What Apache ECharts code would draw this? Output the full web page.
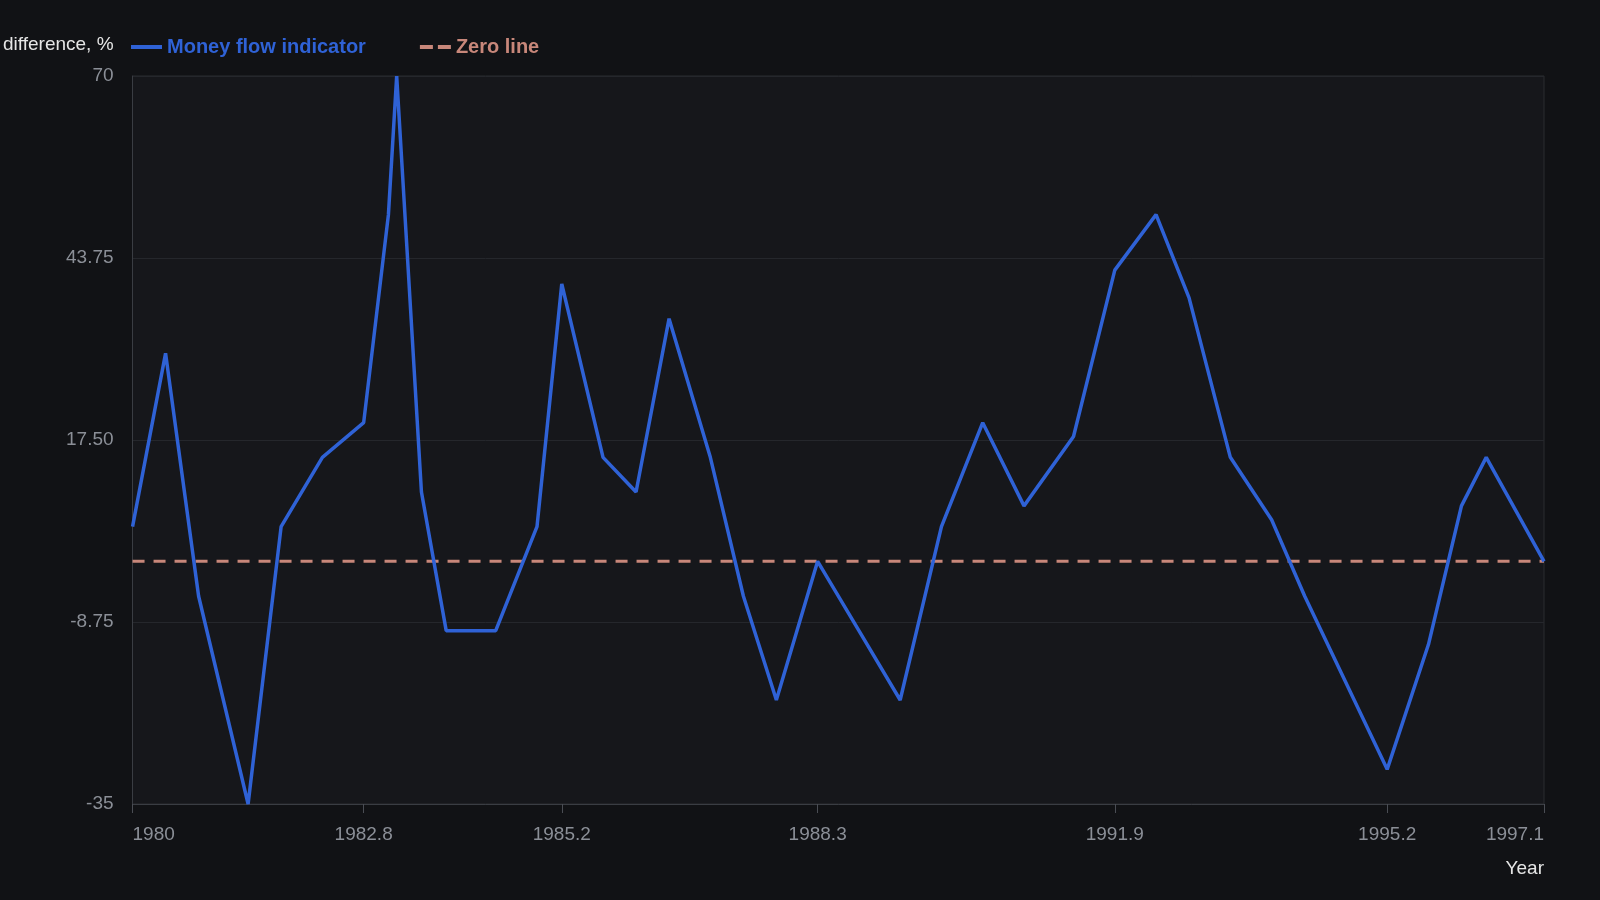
<!DOCTYPE html>
<html>
<head>
<meta charset="utf-8">
<script src="https://cdn.jsdelivr.net/npm/echarts@6/dist/echarts.min.js"></script>
<style>
html,body{margin:0;padding:0;background:#111215;}
#chart{width:1600px;height:900px;}
</style>
</head>
<body>
<div id="chart"></div>
<script>
const years = [1980, 1980.4, 1980.8, 1981.4, 1981.8, 1982.3, 1982.8, 1983.1, 1983.2, 1983.5, 1983.8, 1984.4, 1984.9, 1985.2, 1985.7, 1986.1, 1986.5, 1987.0, 1987.4, 1987.8, 1988.3, 1988.8, 1989.3, 1989.8, 1990.3, 1990.8, 1991.4, 1991.9, 1992.4, 1992.8, 1993.3, 1993.8, 1994.2, 1995.2, 1995.7, 1996.1, 1996.4, 1997.1];
const moneyFlow = [5, 30, -5, -35, 5, 15, 20, 50, 70, 10, -10, -10, 5, 40, 15, 10, 35, 15, -5, -20, 0, -10, -20, 5, 20, 8, 18, 42, 50, 38, 15, 6, -5, -30, -12, 8, 15, 0];
const zeroYears = [1980, 1997.1];
const zeroValues = [0, 0];
const xTickLabels = [1980, 1982.8, 1985.2, 1988.3, 1991.9, 1995.2, 1997.1];

const font = 'Liberation Sans, Arial, Helvetica, sans-serif';
const chart = echarts.init(document.getElementById('chart'));
chart.setOption({
  backgroundColor: '#111215',
  animation: false,
  textStyle: { fontFamily: font },
  legend: {
    left: 126, top: 32,
    itemWidth: 31, itemHeight: 4, itemGap: 54,
    textStyle: { fontSize: 20, fontWeight: 'bold', fontFamily: font },
    data: [
      { name: 'Money flow indicator', icon: 'rect', itemStyle: { color: '#2f62d6' }, textStyle: { color: '#2f62d6' } },
      { name: 'Zero line', icon: 'path://M0,0h13v4h-13z M18,0h13v4h-13z', itemStyle: { color: '#c8877a' }, textStyle: { color: '#c8877a' } }
    ]
  },
  grid: {
    left: 132, right: 56, top: 76, bottom: 96,
    show: true, backgroundColor: '#16171b', borderColor: '#2a2c31', borderWidth: 1
  },
  xAxis: {
    type: 'value', min: 1980, max: 1997.1,
    name: 'Year', nameLocation: 'end', nameGap: 0,
    nameTextStyle: { color: '#e6e6e6', fontSize: 19, fontFamily: font, align: 'right', verticalAlign: 'top', padding: [55, 0, 0, 0] },
    axisLine: { show: true, onZero: false, lineStyle: { color: '#3a3d43', width: 1 } },
    axisTick: { show: true, length: 9, customValues: xTickLabels, lineStyle: { color: '#4a4d54' } },
    axisLabel: {
      customValues: xTickLabels, color: '#8b8f97', fontSize: 19, fontFamily: font, margin: 21,
      alignMinLabel: 'left', alignMaxLabel: 'right',
      formatter: v => String(v)
    },
    splitLine: { show: false }
  },
  yAxis: {
    type: 'value', min: -35, max: 70, interval: 26.25,
    name: 'difference, %', nameLocation: 'end', nameGap: 31,
    nameTextStyle: { color: '#e6e6e6', fontSize: 19, fontFamily: font, align: 'right', verticalAlign: 'middle', padding: [0, 19, 0, 0] },
    axisLine: { show: true, onZero: false, lineStyle: { color: '#3a3d43', width: 1 } },
    axisTick: { show: false },
    axisLabel: {
      color: '#8b8f97', fontSize: 19, fontFamily: font, margin: 19, padding: [4, 0, 0, 0],
      formatter: v => Number.isInteger(v) ? String(v) : v.toFixed(2)
    },
    splitLine: { show: true, lineStyle: { color: '#25272c', width: 1 } }
  },
  series: [
    {
      name: 'Money flow indicator', type: 'line',
      data: years.map((y, i) => [y, moneyFlow[i]]),
      showSymbol: false, symbol: 'none',
      lineStyle: { color: '#2f62d6', width: 3.5 },
      itemStyle: { color: '#2f62d6' },
      z: 3
    },
    {
      name: 'Zero line', type: 'line',
      data: zeroYears.map((y, i) => [y, zeroValues[i]]),
      showSymbol: false, symbol: 'none',
      lineStyle: { color: '#c8877a', width: 3, type: [12, 9] },
      itemStyle: { color: '#c8877a' },
      z: 2
    }
  ]
});
</script>
</body>
</html>
